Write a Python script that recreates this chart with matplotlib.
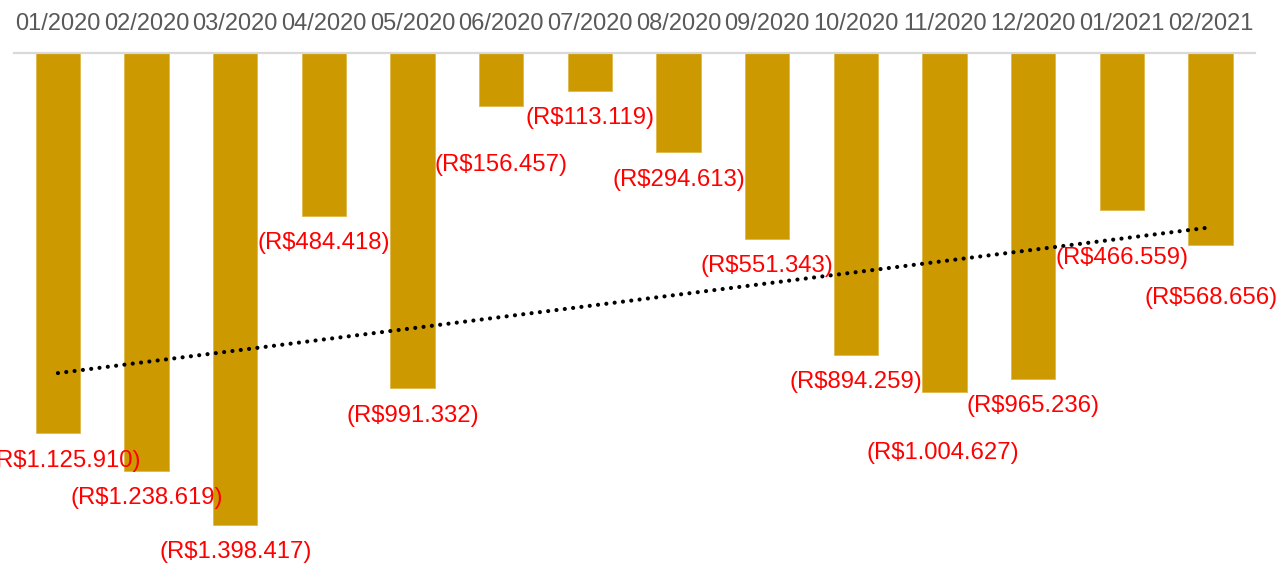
import numpy as np
import matplotlib
matplotlib.use("Agg")
import matplotlib.pyplot as plt

plt.rcParams['font.family'] = ['Liberation Sans', 'DejaVu Sans']

# dados
meses = ["01/2020", "02/2020", "03/2020", "04/2020", "05/2020", "06/2020", "07/2020",
         "08/2020", "09/2020", "10/2020", "11/2020", "12/2020", "01/2021", "02/2021"]
valores = [-1125910, -1238619, -1398417, -484418, -991332, -156457, -113119,
           -294613, -551343, -894259, -1004627, -965236, -466559, -568656]
rotulos = ["(R$1.125.910)", "(R$1.238.619)", "(R$1.398.417)", "(R$484.418)",
           "(R$991.332)", "(R$156.457)", "(R$113.119)", "(R$294.613)",
           "(R$551.343)", "(R$894.259)", "(R$1.004.627)", "(R$965.236)",
           "(R$466.559)", "(R$568.656)"]
# deslocamento dos rotulos em pixels (dx, dy)
desloc = [(7, -28), (0, -27), (0, -27), (0, -27), (0, -28), (0, -59), (0, -27),
          (0, -28), (0, -27), (0, -27), (-2, -61), (0, -27), (0, -48), (0, -53)]

x = np.arange(len(meses))

fig = plt.figure(figsize=(12.8, 5.64), dpi=100)
ax = fig.add_axes([13.6 / 1280, 0, (1255 - 13.6) / 1280, (564 - 53) / 564])

ax.bar(x, valores, width=0.5, color="#CC9900", edgecolor="#E0B84A", linewidth=0.6, zorder=2)

# linha de tendencia linear
a, b = np.polyfit(x, valores, 1)
ax.plot(x, a * x + b, color="black", linewidth=3, linestyle=(0, (0.01, 2.0)),
        dash_capstyle="round", zorder=3)

for xi, v, r, (dx, dy) in zip(x, valores, rotulos, desloc):
    ax.annotate(r, (xi, v), xytext=(dx, dy), textcoords="offset pixels",
                ha="center", va="center", color="#FF0000", fontsize=17.2,
                annotation_clip=False, zorder=4)

ax.set_xlim(-0.5, len(meses) - 0.5)
ax.set_ylim(-1514000, 0)
ax.xaxis.tick_top()
ax.set_xticks(x)
ax.set_xticklabels(meses, fontsize=17, color="#595959")
ax.tick_params(axis="x", length=0, pad=13)
ax.set_yticks([])
for s in ["left", "right", "bottom"]:
    ax.spines[s].set_visible(False)
ax.spines["top"].set_color("#D9D9D9")
ax.spines["top"].set_linewidth(1.6)

fig.savefig("out.png", dpi=100)
